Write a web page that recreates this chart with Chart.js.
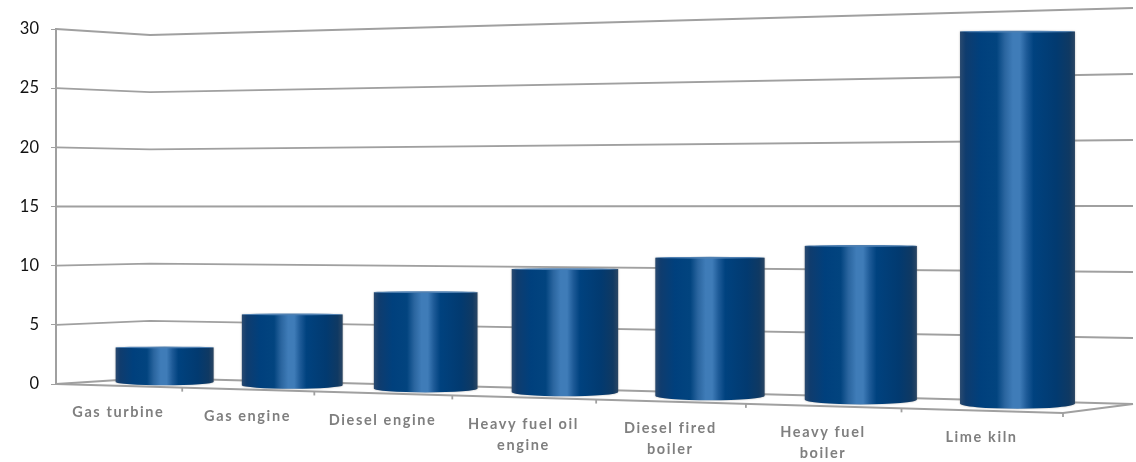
<!DOCTYPE html>
<html>
<head>
<meta charset="utf-8">
<style>
  html, body { margin: 0; padding: 0; background: #fff; }
  #wrap { width: 1136px; height: 462px; position: relative; }
</style>
<script src="https://cdn.jsdelivr.net/npm/chart.js@4"></script>
</head>
<body>
<div id="wrap"><canvas id="chart"></canvas></div>
<script>
"use strict";

const categories = [
  "Gas turbine",
  "Gas engine",
  "Diesel engine",
  ["Heavy fuel oil", "engine"],
  ["Diesel fired", "boiler"],
  ["Heavy fuel", "boiler"],
  "Lime kiln",
];
const seriesValues = [3, 6, 8, 10, 11, 12, 28.2];
const valueTicks = [0, 5, 10, 15, 20, 25, 30];

const GRID = "#a0a0a0";

// Box corners of the 3D scene: floor and ceiling, front and back.
// Front-left sits on the chart area, the rest is offset from it.
const box = {
  backLeft: { dx: 94, bottom: -6, top: 6 },
  backRight: { x: 1133, bottom: 404, top: 8 },
  frontRightBottom: 29,
  midTopRight: 5.5,
};

// category spacing widens towards the viewer
const warp = (u) => u + 0.143 * u * (u - 1);
const lerp = (a, b, t) => a + (b - a) * t;

function sceneFrom(chart) {
  const { left, right, top, bottom } = chart.chartArea;
  const y = chart.scales.y;
  const frac = (v) => (bottom - y.getPixelForValue(v)) / (bottom - top);
  const backL = left + box.backLeft.dx;
  const backLy = (v) => lerp(bottom + box.backLeft.bottom, top + box.backLeft.top, frac(v));
  const backRy = (v) => lerp(box.backRight.bottom, box.backRight.top, frac(v));
  const frontFloor = (g) => ({ x: lerp(left, right, g), y: bottom + box.frontRightBottom * g });
  const backFloor = (g) => ({ x: lerp(backL, box.backRight.x, g), y: lerp(backLy(0), backRy(0), g) });
  // middle depth plane, this is where the bars stand
  const mid = (g, v) => {
    const x = (lerp(left, right, g) + lerp(backL, box.backRight.x, g)) / 2;
    const b = (frontFloor(g).y + backFloor(g).y) / 2;
    const t = lerp((top + top + box.backLeft.top) / 2, box.midTopRight, g);
    return { x, y: lerp(b, t, frac(v)) };
  };
  return { left, right, top, bottom, backL, backLy, backRy, frontFloor, backFloor, mid };
}

function line(ctx, x1, y1, x2, y2) {
  ctx.beginPath();
  ctx.moveTo(x1, y1);
  ctx.lineTo(x2, y2);
  ctx.stroke();
}

function cylinderGradient(ctx, x0, x1) {
  const g = ctx.createLinearGradient(x0, 0, x1, 0);
  g.addColorStop(0, "#2a4a70");
  g.addColorStop(0.05, "#0f3c6e");
  g.addColorStop(0.18, "#00407d");
  g.addColorStop(0.32, "#02447f");
  g.addColorStop(0.39, "#2a659f");
  g.addColorStop(0.46, "#3f7cb8");
  g.addColorStop(0.52, "#3f7cb8");
  g.addColorStop(0.58, "#1d5a97");
  g.addColorStop(0.64, "#00427f");
  g.addColorStop(0.84, "#023a70");
  g.addColorStop(0.95, "#0f3963");
  g.addColorStop(1, "#2a4664");
  return g;
}

// grid walls, floor and slanted category axis behind the bars
const wallsPlugin = {
  id: "walls",
  beforeDatasetsDraw(chart) {
    const s = sceneFrom(chart);
    const { ctx } = chart;
    const y = chart.scales.y;
    ctx.save();
    ctx.strokeStyle = GRID;
    ctx.lineWidth = 1.8;
    for (const v of valueTicks) {
      const py = y.getPixelForValue(v);
      ctx.beginPath();
      ctx.moveTo(s.left, py);
      ctx.lineTo(s.backL, s.backLy(v));
      ctx.lineTo(1133, s.backRy(v));
      ctx.stroke();
    }
    const fr = s.frontFloor(1);
    line(ctx, s.left, s.bottom, fr.x, fr.y);
    line(ctx, fr.x, fr.y, 1133, s.backRy(0));
    categories.forEach((_, i) => {
      const p = s.frontFloor(warp((i + 1) / categories.length));
      line(ctx, p.x, p.y, p.x, p.y + 4);
    });
    ctx.restore();
  },
  // cylinders replace the flat bars
  beforeDatasetDraw(chart, args) {
    const s = sceneFrom(chart);
    const { ctx } = chart;
    const span = s.right - s.left;
    args.meta.data.forEach((bar, i) => {
      const u = (bar.x - s.left) / span;
      const g = warp(u);
      const foot = s.mid(g, 0);
      const head = s.mid(g, seriesValues[i]);
      const w = bar.width * (0.907 + 0.186 * u);
      const x0 = foot.x - w / 2;
      const x1 = foot.x + w / 2;
      const sag = 3 + 2.5 * u;
      // lowest point of the base drops a little under the floor centre
      const baseY = foot.y + 2.5 - sag;

      ctx.save();
      ctx.beginPath();
      ctx.moveTo(x0, head.y);
      ctx.lineTo(x1, head.y);
      ctx.lineTo(x1, baseY);
      ctx.ellipse(foot.x, baseY, w / 2, sag, 0, 0, Math.PI);
      ctx.closePath();
      ctx.shadowColor = "rgba(90,90,90,0.5)";
      ctx.shadowBlur = 2;
      ctx.fillStyle = cylinderGradient(ctx, x0, x1);
      ctx.fill();
      // thin top rim of the cylinder
      ctx.shadowColor = "transparent";
      ctx.beginPath();
      ctx.ellipse(foot.x, head.y, w / 2, 0.9, 0, 0, Math.PI * 2);
      ctx.fillStyle = "#4f80b2";
      ctx.fill();
      ctx.restore();
    });
    return false;
  },
  afterDatasetsDraw(chart) {
    const s = sceneFrom(chart);
    const { ctx } = chart;
    ctx.save();
    ctx.fillStyle = "#7f7f7f";
    ctx.font = "bold 14.5px Lato";
    ctx.letterSpacing = "1.6px";
    ctx.textAlign = "center";
    ctx.textBaseline = "middle";
    categories.forEach((label, i) => {
      const p = s.frontFloor(warp((i + 0.5) / categories.length));
      [].concat(label).forEach((text, row) => {
        ctx.fillText(text, p.x, p.y + 26.5 + row * 21);
      });
    });
    ctx.restore();
  },
};

new Chart(document.getElementById("chart"), {
  type: "bar",
  data: {
    labels: categories,
    datasets: [{ data: seriesValues, backgroundColor: "#03437f", barPercentage: 0.74, categoryPercentage: 1 }],
  },
  options: {
    responsive: true,
    maintainAspectRatio: false,
    animation: false,
    events: [],
    layout: { padding: { left: 0, right: 73, top: 29, bottom: 78 } },
    plugins: { legend: { display: false }, tooltip: { enabled: false } },
    scales: {
      x: {
        afterFit: (scale) => { scale.height = 0; },
        grid: { display: false },
        border: { display: false },
        ticks: { display: false },
      },
      y: {
        min: 0,
        max: 30,
        afterFit: (scale) => { scale.width = 56; },
        afterBuildTicks: (scale) => { scale.ticks = valueTicks.map((value) => ({ value })); },
        border: { color: GRID, width: 2 },
        grid: { drawOnChartArea: false, drawTicks: true, tickLength: 5, color: GRID },
        ticks: { padding: 12, color: "#111", font: { family: "Lato", size: 16.5 } },
      },
    },
  },
  plugins: [wallsPlugin],
});
</script>
</body>
</html>
